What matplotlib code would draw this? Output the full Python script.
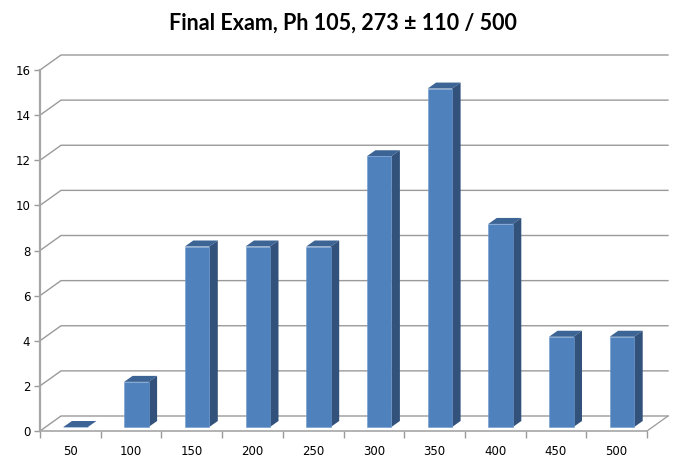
# Final exam histogram, drawn as a fake 3D column chart
import numpy as np
import matplotlib
matplotlib.use("Agg")
import matplotlib.pyplot as plt

# Data
categories = ["50", "100", "150", "200", "250", "300", "350", "400", "450", "500"]
counts = [0, 2, 8, 8, 8, 12, 15, 9, 4, 4]
yTicks = [0, 2, 4, 6, 8, 10, 12, 14, 16]

# Figure, axes box is the front plane of the chart
figW, figH = 685, 462
fig = plt.figure(figsize=(figW / 100, figH / 100), dpi=100, facecolor="white")
ax = fig.add_axes([40 / figW, (figH - 431) / figH, 607 / figW, 361 / figH])
ax.set_xlim(0, len(categories))
ax.set_ylim(0, 16)
ax.patch.set_visible(False)

# Pixel sizes converted to data units
pxX = len(categories) / 607
pxY = 16 / 361
wallX, wallY = 21 * pxX, 15 * pxY      # depth of the chart box
shiftX, shiftY = 5.3 * pxX, 4 * pxY    # bars sit a little into the floor
depthX, depthY = 8.5 * pxX, 6 * pxY    # depth of one bar
barWidth = 24.5 * pxX

gridColor = "#9a9a9a"

# Gridlines on side wall and back wall
for tick in yTicks:
    ax.plot([0, wallX, len(categories) + wallX],
            [tick, tick + wallY, tick + wallY],
            color=gridColor, lw=1.0, clip_on=False, zorder=1, solid_joinstyle="miter")

# Floor edges
ax.plot([len(categories), len(categories) + wallX], [0, wallY],
        color=gridColor, lw=0.9, clip_on=False, zorder=1)

# Bars
centers = np.arange(len(categories)) + 0.5 + shiftX
for x, value in zip(centers, counts):
    left = x - barWidth / 2
    right = x + barWidth / 2
    base = shiftY
    top = value + shiftY
    # top face
    ax.fill([left, left + depthX, right + depthX, right],
            [top, top + depthY, top + depthY, top],
            color="#3c6494", lw=0, clip_on=False, zorder=3)
    if value > 0:
        # side face
        ax.fill([right, right + depthX, right + depthX, right],
                [base, base + depthY, top + depthY, top],
                color="#32527c", lw=0, clip_on=False, zorder=3)
ax.bar(centers, counts, width=barWidth, bottom=shiftY, color="#4f81bd",
       edgecolor="#6f9ad0", linewidth=0.4, zorder=4, clip_on=False)

# Axes
for side in ["top", "right"]:
    ax.spines[side].set_visible(False)
ax.spines["left"].set_color("#a6a6a6")
ax.spines["left"].set_linewidth(1.6)
ax.spines["bottom"].set_color("#a6a6a6")
ax.spines["bottom"].set_linewidth(1.2)

ax.set_yticks(yTicks)
ax.set_xticks(np.arange(len(categories) + 1))
ax.set_xticklabels([])
ax.set_xticks(np.arange(len(categories)) + 0.5, labels=categories, minor=True)
ax.tick_params(axis="x", which="major", length=5, width=1, color=gridColor)
ax.tick_params(axis="x", which="minor", length=0, pad=10, labelsize=8.5, labelcolor="black")
ax.tick_params(axis="y", length=4, width=1, color=gridColor, pad=3, labelsize=8.5, labelcolor="black")

fig.text(343 / figW, (figH - 23) / figH, "Final Exam, Ph 105, 273 ± 110 / 500",
         ha="center", va="center", family="Lato", weight="bold", fontsize=15.5, color="black")

fig.savefig("out.png", dpi=100)
